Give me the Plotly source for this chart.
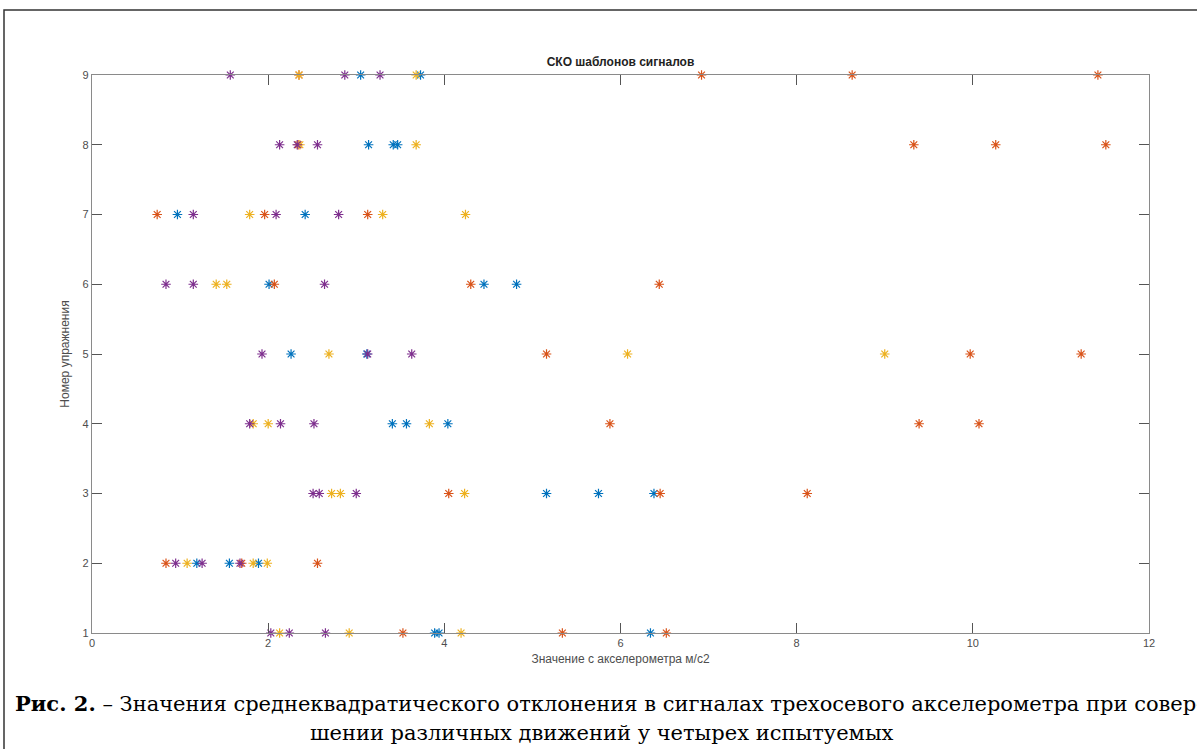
import plotly.graph_objects as go

# Subject series (MATLAB default colours), x = RMS value, y = exercise number
s1_x = [3.05, 3.73, 3.14, 3.42, 3.47, 0.97, 2.42, 2.01, 4.45, 4.82, 2.26, 3.12,
        3.41, 3.57, 4.04, 5.16, 5.75, 6.38, 1.19, 1.56, 1.89, 3.89, 3.94, 6.34]
s1_y = [9, 9, 8, 8, 8, 7, 7, 6, 6, 6, 5, 5,
        4, 4, 4, 3, 3, 3, 2, 2, 2, 1, 1, 1]

s2_x = [2.35, 6.92, 8.63, 11.42, 2.34, 9.33, 10.26, 11.51, 0.74, 1.96, 3.13,
        2.07, 4.30, 6.44, 5.16, 9.97, 11.23, 5.88, 9.39, 10.07, 4.05, 6.45, 8.12,
        0.84, 1.70, 2.56, 3.53, 5.34, 6.52]
s2_y = [9, 9, 9, 9, 8, 8, 8, 8, 7, 7, 7,
        6, 6, 6, 5, 5, 5, 4, 4, 4, 3, 3, 3,
        2, 2, 2, 1, 1, 1]

s3_x = [2.35, 3.68, 2.36, 3.68, 1.79, 3.30, 4.24, 1.41, 1.53, 2.69, 6.08, 9.00,
        1.83, 2.00, 3.83, 2.72, 2.82, 4.23, 1.08, 1.83, 1.99, 2.13, 2.92, 4.19]
s3_y = [9, 9, 8, 8, 7, 7, 7, 6, 6, 5, 5, 5,
        4, 4, 4, 3, 3, 3, 2, 2, 2, 1, 1, 1]

s4_x = [1.57, 2.87, 3.27, 2.13, 2.33, 2.56, 1.15, 2.09, 2.80, 0.84, 1.15, 2.64,
        1.93, 3.13, 3.63, 1.79, 2.14, 2.52, 2.51, 2.58, 3.00, 0.95, 1.25, 1.68,
        2.03, 2.24, 2.65]
s4_y = [9, 9, 9, 8, 8, 8, 7, 7, 7, 6, 6, 6,
        5, 5, 5, 4, 4, 4, 3, 3, 3, 2, 2, 2,
        1, 1, 1]

series_colors = ["#0072BD", "#D95319", "#EDB120", "#7E2F8E"]
x_ticks = [0, 2, 4, 6, 8, 10, 12]
y_ticks = [1, 2, 3, 4, 5, 6, 7, 8, 9]

title_text = "СКО шаблонов сигналов"
x_title = "Значение с акселерометра м/с2"
y_title = "Номер упражнения"
caption_1 = ("<b>Рис. 2.</b> – Значения среднеквадратического отклонения в сигналах "
             "трехосевого акселерометра при совер-")
caption_2 = "шении различных движений у четырех испытуемых"

W, H = 1197, 749
L, R, T, B = 92, 48, 75, 116
pw, ph = W - L - R, H - T - B


def px_x(p):
    return (p - L) / pw


def px_y(p):
    return (H - B - p) / ph


fig = go.Figure()
for xs, ys, c in [(s1_x, s1_y, series_colors[0]), (s2_x, s2_y, series_colors[1]),
                  (s3_x, s3_y, series_colors[2]), (s4_x, s4_y, series_colors[3])]:
    fig.add_trace(go.Scatter(
        x=xs, y=ys, mode="markers", cliponaxis=False,
        marker=dict(symbol="asterisk-open", size=8, color=c,
                    line=dict(color=c, width=1.2)),
        showlegend=False, hoverinfo="x+y"))

axis_common = dict(showgrid=False, zeroline=False, showline=True,
                   linecolor="#8a8a8a", linewidth=1.2, mirror="ticks",
                   ticks="inside", ticklen=10, tickwidth=1, tickcolor="#555555",
                   tickfont=dict(family="Liberation Sans, Arial", size=11, color="#4d4d4d"))

fig.update_xaxes(range=[0, 12], tickvals=x_ticks, **axis_common,
                 title=dict(text=x_title, standoff=6,
                            font=dict(family="Liberation Sans, Arial", size=12, color="#4d4d4d")))
fig.update_yaxes(range=[1, 9], tickvals=y_ticks, **axis_common,
                 title=dict(text=y_title, standoff=10,
                            font=dict(family="Liberation Sans, Arial", size=12, color="#4d4d4d")))

cap_font = dict(family="DejaVu Serif", size=21, color="black")

fig.update_layout(
    width=W, height=H, margin=dict(l=L, r=R, t=T, b=B),
    paper_bgcolor="white", plot_bgcolor="white",
    title=dict(text="<b>" + title_text + "</b>", x=0.5, xref="paper", xanchor="center",
               y=(H - 62) / H, yanchor="middle",
               font=dict(family="Liberation Sans, Arial", size=12, color="#222222")),
    shapes=[dict(type="rect", xref="paper", yref="paper",
                 x0=px_x(4), x1=px_x(W + 5), y0=px_y(H + 5), y1=px_y(10),
                 line=dict(color="#333333", width=1.5), layer="above")],
    annotations=[
        dict(text=caption_1, xref="paper", yref="paper", x=px_x(13), y=px_y(703),
             xanchor="left", yanchor="middle", showarrow=False, font=cap_font),
        dict(text=caption_2, xref="paper", yref="paper", x=px_x(602), y=px_y(733),
             xanchor="center", yanchor="middle", showarrow=False, font=cap_font),
    ],
)

fig.write_html("out.html", config={"displayModeBar": False},
               post_script="document.body.style.margin='0px';")
